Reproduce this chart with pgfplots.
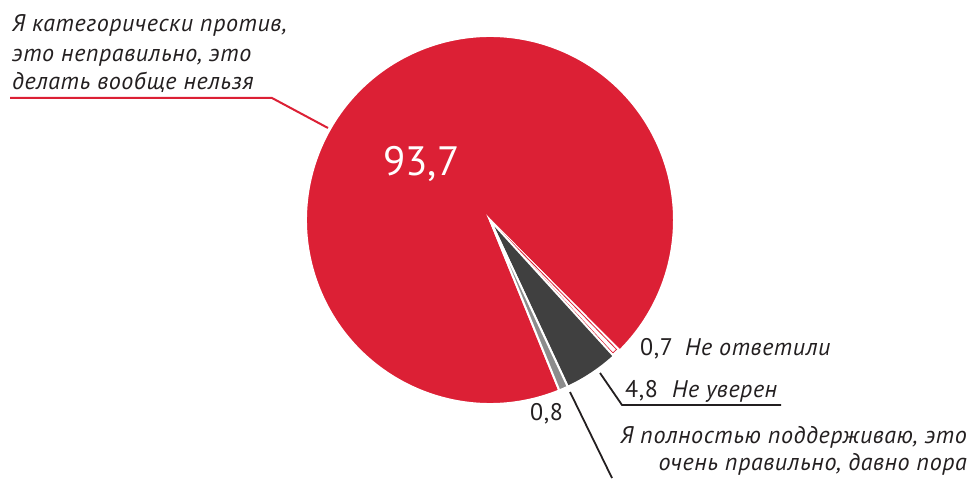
\documentclass[border=0pt]{standalone}
\usepackage{pgfplots}
\pgfplotsset{compat=1.18}
\usepackage{pgfplotstable}
\usepackage{fontspec}
\setmainfont{PT Sans}
\newfontfamily\labfont[LetterSpace=2.5]{PT Sans}
\definecolor{pred}{HTML}{DC2035}
\definecolor{pdark}{HTML}{404040}
\definecolor{pgray}{HTML}{8C8C8C}
\definecolor{ptext}{HTML}{231F20}

% shares in clockwise order, starting at the edge of the "no answer" slice
\pgfplotstableread{
value
0.7
4.8
0.8
93.7
}\piedata
\pgfplotstablegetelem{0}{value}\of\piedata \let\vA\pgfplotsretval
\pgfplotstablegetelem{1}{value}\of\piedata \let\vB\pgfplotsretval
\pgfplotstablegetelem{2}{value}\of\piedata \let\vC\pgfplotsretval
\pgfplotstablegetelem{3}{value}\of\piedata \let\vD\pgfplotsretval
\pgfmathsetmacro\aZero{-45.2}
\pgfmathsetmacro\aOne{\aZero-3.6*\vA}
\pgfmathsetmacro\aTwo{\aOne-3.6*\vB}
\pgfmathsetmacro\aThree{\aTwo-3.6*\vC}
\pgfmathsetmacro\aFour{\aThree-3.6*\vD}
\pgfmathsetmacro\aZi{\aZero-0.45}
\pgfmathsetmacro\aOi{\aOne+0.45}

\newcommand\lab{\labfont\fontsize{24}{28}\selectfont\itshape}
\newcommand\num{\labfont\fontsize{24}{28}\selectfont}

\begin{document}
\begin{tikzpicture}
\begin{axis}[scale only axis, width=973pt, height=478pt,
  xmin=0, xmax=973, ymin=0, ymax=478, hide axis, clip=false]
\path (axis cs:0,0) (axis cs:973,478);
% slices
\filldraw[fill=pred, draw=white, line width=2pt] (axis cs:490,258) -- ++(\aThree:184pt) arc[start angle=\aThree, end angle=\aFour, radius=184pt] -- cycle;
\filldraw[fill=white, draw=white, line width=2pt] (axis cs:490,258) -- ++(\aZero:184pt) arc[start angle=\aZero, end angle=\aOne, radius=184pt] -- cycle;
\draw[pred, line width=0.8pt] (axis cs:490,258) -- ++(\aZi:181pt) arc[start angle=\aZi, end angle=\aOi, radius=181pt] -- cycle;
\filldraw[fill=pdark, draw=white, line width=2pt] (axis cs:490,258) -- ++(\aOne:184pt) arc[start angle=\aOne, end angle=\aTwo, radius=184pt] -- cycle;
\filldraw[fill=pgray, draw=white, line width=2pt] (axis cs:490,258) -- ++(\aTwo:184pt) arc[start angle=\aTwo, end angle=\aThree, radius=184pt] -- cycle;
% big value
\node[anchor=base west, inner sep=0, text=white, font=\fontsize{41}{48}\selectfont] at (axis cs:383,302) {93,7};
% left label
\node[anchor=base west, inner sep=0, text=ptext, font=\lab] at (axis cs:12,446) {Я категорически против,};
\node[anchor=base west, inner sep=0, text=ptext, font=\lab] at (axis cs:12,416) {это неправильно, это};
\node[anchor=base west, inner sep=0, text=ptext, font=\lab] at (axis cs:12,388) {делать вообще нельзя};
\draw[pred, line width=2pt] (axis cs:10,380) -- (axis cs:272,380) -- (axis cs:328,350);
% right labels
\node[anchor=base west, inner sep=0, text=ptext, font=\num] at (axis cs:640,123) {0,7};
\node[anchor=base west, inner sep=0, text=ptext, font=\lab] at (axis cs:685,123) {Не ответили};
\node[anchor=base west, inner sep=0, text=ptext, font=\num] at (axis cs:625,81) {4,8};
\node[anchor=base west, inner sep=0, text=ptext, font=\lab] at (axis cs:672,81) {Не уверен};
\draw[ptext, line width=1.8pt] (axis cs:600,105) -- (axis cs:622,73) -- (axis cs:781,73);
\node[anchor=base west, inner sep=0, text=ptext, font=\num] at (axis cs:530,58) {0,8};
\node[anchor=base east, inner sep=0, text=ptext, font=\lab] at (axis cs:967,35) {Я полностью поддерживаю, это};
\node[anchor=base east, inner sep=0, text=ptext, font=\lab] at (axis cs:967,8) {очень правильно, давно пора};
\draw[ptext, line width=1.8pt] (axis cs:570,86) -- (axis cs:612,0);
\end{axis}
\end{tikzpicture}
\end{document}
